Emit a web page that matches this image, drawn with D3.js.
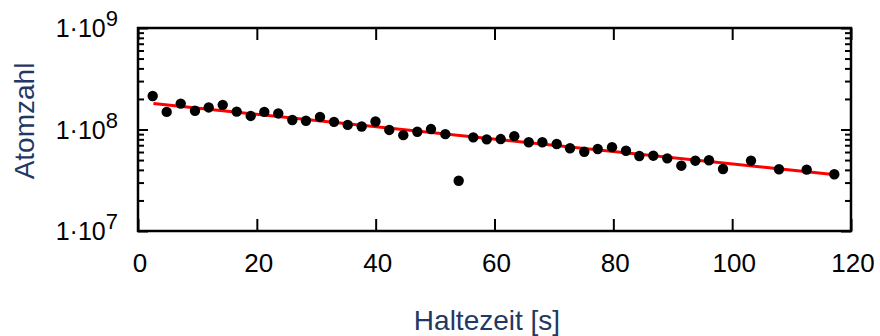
<!DOCTYPE html>
<html><head><meta charset="utf-8">
<script src="https://cdn.jsdelivr.net/npm/d3@7"></script>
<style>body{margin:0;background:#fff}svg{display:block}text{font-family:"Liberation Sans",Arial,sans-serif}</style>
</head><body>
<script>
const haltezeit = [2.47,4.83,7.19,9.59,11.90,14.26,16.61,18.97,21.26,23.61,25.97,28.27,30.63,32.99,35.29,37.65,39.97,42.29,44.65,47.01,49.31,51.72,53.97,56.43,58.69,61.04,63.33,65.76,68.05,70.47,72.71,75.11,77.37,79.78,82.13,84.37,86.73,89.08,91.44,93.80,96.10,98.46,103.17,107.88,112.54,117.19];
const atomzahl = [2.14e8,1.49e8,1.80e8,1.53e8,1.65e8,1.75e8,1.50e8,1.36e8,1.49e8,1.44e8,1.24e8,1.22e8,1.33e8,1.19e8,1.11e8,1.07e8,1.20e8,9.9e7,8.8e7,9.5e7,1.01e8,9.0e7,3.13e7,8.37e7,8.0e7,8.05e7,8.6e7,7.48e7,7.48e7,7.19e7,6.53e7,6.04e7,6.43e7,6.70e7,6.18e7,5.48e7,5.52e7,5.20e7,4.40e7,4.93e7,4.98e7,4.08e7,4.93e7,4.06e7,4.02e7,3.62e7];
const fitX = [2.6, 117.8];
const fitY = [1.80e8, 3.56e7];
const xTicks = [0,20,40,60,80,100,120];
const yExponents = [7,8,9];

const W=880,H=336;
const m={l:138,r:851,t:28,b:231};
const svg=d3.select("body").append("svg").attr("width",W).attr("height",H);
const x=d3.scaleLinear().domain([0,120]).range([m.l,m.r]);
const y=d3.scaleLog().domain([1e7,1e9]).range([m.b,m.t]);

const minor=[];
for(let e=7;e<9;e++) for(let k=2;k<=9;k++) minor.push(k*Math.pow(10,e));
const majors=yExponents.map(e=>Math.pow(10,e));

// axes with inward ticks
svg.append("g").attr("transform",`translate(0,${m.b})`)
  .call(d3.axisBottom(x).tickValues(xTicks).tickSize(-12).tickFormat("")).call(g=>g.select(".domain").remove());
svg.append("g").attr("transform",`translate(0,${m.t})`)
  .call(d3.axisTop(x).tickValues(xTicks).tickSize(-12).tickFormat("")).call(g=>g.select(".domain").remove());
svg.append("g").attr("transform",`translate(${m.l},0)`)
  .call(d3.axisLeft(y).tickValues(majors).tickSize(-10).tickFormat("")).call(g=>g.select(".domain").remove());
svg.append("g").attr("transform",`translate(${m.l},0)`)
  .call(d3.axisLeft(y).tickValues(minor).tickSize(-6).tickFormat("")).call(g=>g.select(".domain").remove());
svg.append("g").attr("transform",`translate(${m.r},0)`)
  .call(d3.axisRight(y).tickValues(majors).tickSize(-10).tickFormat("")).call(g=>g.select(".domain").remove());
svg.append("g").attr("transform",`translate(${m.r},0)`)
  .call(d3.axisRight(y).tickValues(minor).tickSize(-6).tickFormat("")).call(g=>g.select(".domain").remove());
svg.selectAll(".tick line").attr("stroke","#000").attr("stroke-width",2);

// frame
svg.append("rect").attr("x",m.l).attr("y",m.t).attr("width",m.r-m.l).attr("height",m.b-m.t)
  .attr("fill","none").attr("stroke","#000").attr("stroke-width",2.5);

// x labels
svg.append("g").selectAll("text").data(xTicks).join("text")
  .attr("x",d=>x(d)+2).attr("y",272).attr("text-anchor","middle")
  .attr("font-size",26).attr("fill","#000").text(d=>d);

// y labels
const yl=svg.append("g").selectAll("text").data(yExponents).join("text")
  .attr("x",118).attr("y",e=>y(Math.pow(10,e))+9).attr("text-anchor","end")
  .attr("font-size",25).attr("fill","#000");
yl.append("tspan").text("1·10");
yl.append("tspan").attr("dy",-11).attr("font-size",22).text(e=>e);

// fit line
svg.append("line").attr("x1",x(fitX[0])).attr("y1",y(fitY[0])).attr("x2",x(fitX[1])).attr("y2",y(fitY[1]))
  .attr("stroke","#ff0000").attr("stroke-width",3);

// points
svg.append("g").selectAll("circle").data(haltezeit).join("circle")
  .attr("cx",d=>x(d)).attr("cy",(d,i)=>y(atomzahl[i])).attr("r",5.2).attr("fill","#000");

// axis titles
svg.append("text").attr("transform",`translate(34,${121}) rotate(-90)`).attr("text-anchor","middle")
  .attr("font-size",28).attr("fill","#1f3864").attr("font-family","'Open Sans',sans-serif").text("Atomzahl");
svg.append("text").attr("x",487).attr("y",330).attr("text-anchor","middle")
  .attr("font-size",28).attr("fill","#1f3864").attr("font-family","'Open Sans',sans-serif").text("Haltezeit [s]");
</script>
</body></html>
